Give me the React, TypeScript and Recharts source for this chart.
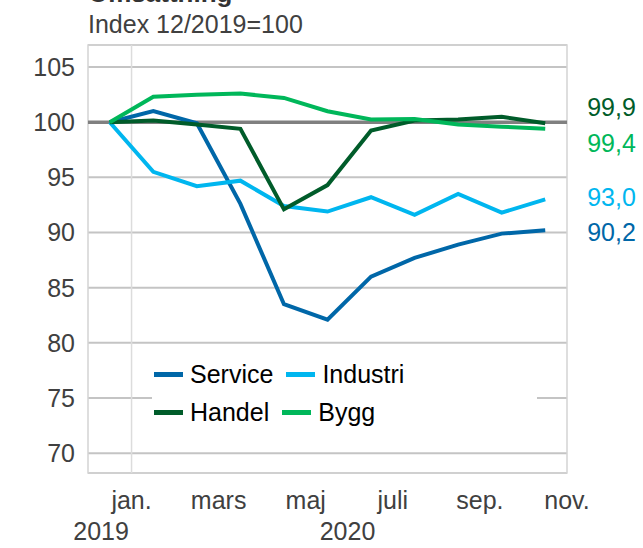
import React from 'react';
import {
  LineChart,
  Line,
  XAxis,
  YAxis,
  CartesianGrid,
  ReferenceLine,
  ReferenceArea,
  Legend,
  LabelList
} from 'recharts';

// months dec 2019 .. okt 2020, index 12/2019=100
const months = ['dec', 'jan', 'feb', 'mar', 'apr', 'maj', 'jun', 'jul', 'aug', 'sep', 'okt'];
const service = [100, 101.0, 99.9, 92.6, 83.5, 82.1, 86.0, 87.7, 88.9, 89.9, 90.2];
const industri = [100, 95.5, 94.2, 94.7, 92.4, 91.9, 93.2, 91.6, 93.5, 91.8, 93.0];
const handel = [100, 100.15, 99.8, 99.4, 92.1, 94.3, 99.25, 100.15, 100.25, 100.5, 99.9];
const bygg = [100, 102.3, 102.5, 102.6, 102.2, 101.0, 100.25, 100.3, 99.8, 99.6, 99.4];

const monthLabels = ['jan.', 'mars', 'maj', 'juli', 'sep.', 'nov.'];
const yearLabels = ['2019', '2020'];
const yTicks = [70, 75, 80, 85, 90, 95, 100, 105];

const FONT = '"Liberation Sans", Arial, sans-serif';
const TEXT = '#404040';

const series = [
  { key: 'service', name: 'Service', color: '#0067a8' },
  { key: 'industri', name: 'Industri', color: '#00b6ef' },
  { key: 'handel', name: 'Handel', color: '#005c2a' },
  { key: 'bygg', name: 'Bygg', color: '#00b75a' }
];

// end labels are nudged apart so they don't collide
const endLabelDy: Record<string, number> = { service: 2, industri: -2, handel: -16, bygg: 14 };

const data = months.map((m, i) => ({
  x: i,
  month: m,
  service: service[i],
  industri: industri[i],
  handel: handel[i],
  bygg: bygg[i]
}));

const last = months.length - 1;
const monthTicks = monthLabels.map((_, i) => i * 2 + 0.5);
const yearTicks = [-0.2, 5.46];

const MonthTick = ({ x, y, payload }: any) => {
  const idx = monthTicks.indexOf(payload.value);
  return (
    <text x={x} y={y + 28} textAnchor="middle" fontSize={25} fill={TEXT} fontFamily={FONT}>
      {monthLabels[idx]}
    </text>
  );
};

const YearTick = ({ x, y, payload }: any) => {
  const idx = yearTicks.indexOf(payload.value);
  return (
    <text x={x} y={y + 14} textAnchor="middle" fontSize={25} fill={TEXT} fontFamily={FONT}>
      {yearLabels[idx]}
    </text>
  );
};

const LegendBox = () => {
  const rows = [series.slice(0, 2), series.slice(2, 4)];
  return (
    <div style={{ fontFamily: FONT, fontSize: 25, color: '#000', paddingLeft: 2, paddingTop: 3 }}>
      {rows.map((row, r) => (
        <div key={r} style={{ display: 'flex', alignItems: 'center', height: 38 }}>
          {row.map((s) => (
            <div key={s.key} style={{ display: 'flex', alignItems: 'center', marginRight: 13 }}>
              <span style={{ display: 'inline-block', width: 29, height: 5, background: s.color, marginRight: 7 }} />
              <span>{s.name}</span>
            </div>
          ))}
        </div>
      ))}
    </div>
  );
};

const endLabel = (key: string, color: string) => (props: any) => {
  const { x, y, index, value } = props;
  if (index !== last) return null;
  return (
    <text
      x={x + 42}
      y={y + endLabelDy[key]}
      dominantBaseline="central"
      fontSize={25}
      fill={color}
      fontFamily={FONT}
    >
      {Number(value).toFixed(1).replace('.', ',')}
    </text>
  );
};

export default function App() {
  return (
    <div style={{ position: 'absolute', left: 0, top: 0, width: 643, height: 548, background: '#fff', fontFamily: FONT }}>
      <div style={{ position: 'absolute', left: 88, top: -22, fontSize: 26, fontWeight: 'bold', color: '#333' }}>
        Omsättning
      </div>
      <div style={{ position: 'absolute', left: 88, top: 9, fontSize: 25, color: TEXT, lineHeight: '30px' }}>
        Index 12/2019=100
      </div>
      <LineChart width={643} height={548} data={data} margin={{ top: 45, right: 76, left: 0, bottom: 0 }}>
        <CartesianGrid vertical={false} stroke="#c4c4c4" strokeWidth={2} />
        <ReferenceArea x1={-0.5} x2={10.5} y1={68.2} y2={107} fill="none" stroke="#d4d4d4" strokeWidth={1.5} />
        <ReferenceLine x={0.5} stroke="#dcdcdc" strokeWidth={1.5} />
        <XAxis
          type="number"
          dataKey="x"
          domain={[-0.5, 10.5]}
          ticks={monthTicks}
          tick={<MonthTick />}
          axisLine={false}
          tickLine={false}
          height={45}
          interval={0}
          allowDataOverflow
        />
        <XAxis
          xAxisId="year"
          type="number"
          dataKey="x"
          domain={[-0.5, 10.5]}
          ticks={yearTicks}
          tick={<YearTick />}
          axisLine={false}
          tickLine={false}
          height={30}
          interval={0}
          allowDataOverflow
        />
        <YAxis
          type="number"
          domain={[68.2, 107]}
          ticks={yTicks}
          width={88}
          axisLine={false}
          tickLine={false}
          tickMargin={7}
          tick={{ fontSize: 25, fill: TEXT, fontFamily: FONT }}
          allowDataOverflow
        />
        <ReferenceLine y={100} stroke="#808080" strokeWidth={3.5} />
        <Legend
          layout="horizontal"
          verticalAlign="middle"
          align="center"
          content={<LegendBox />}
          wrapperStyle={{ position: 'absolute', left: 152, top: 352, width: 385, height: 86, background: '#fff' }}
        />
        {series.map((s) => (
          <Line
            key={s.key}
            type="linear"
            dataKey={s.key}
            name={s.name}
            stroke={s.color}
            strokeWidth={4}
            dot={false}
            isAnimationActive={false}
          >
            <LabelList dataKey={s.key} content={endLabel(s.key, s.color)} />
          </Line>
        ))}
      </LineChart>
    </div>
  );
}
